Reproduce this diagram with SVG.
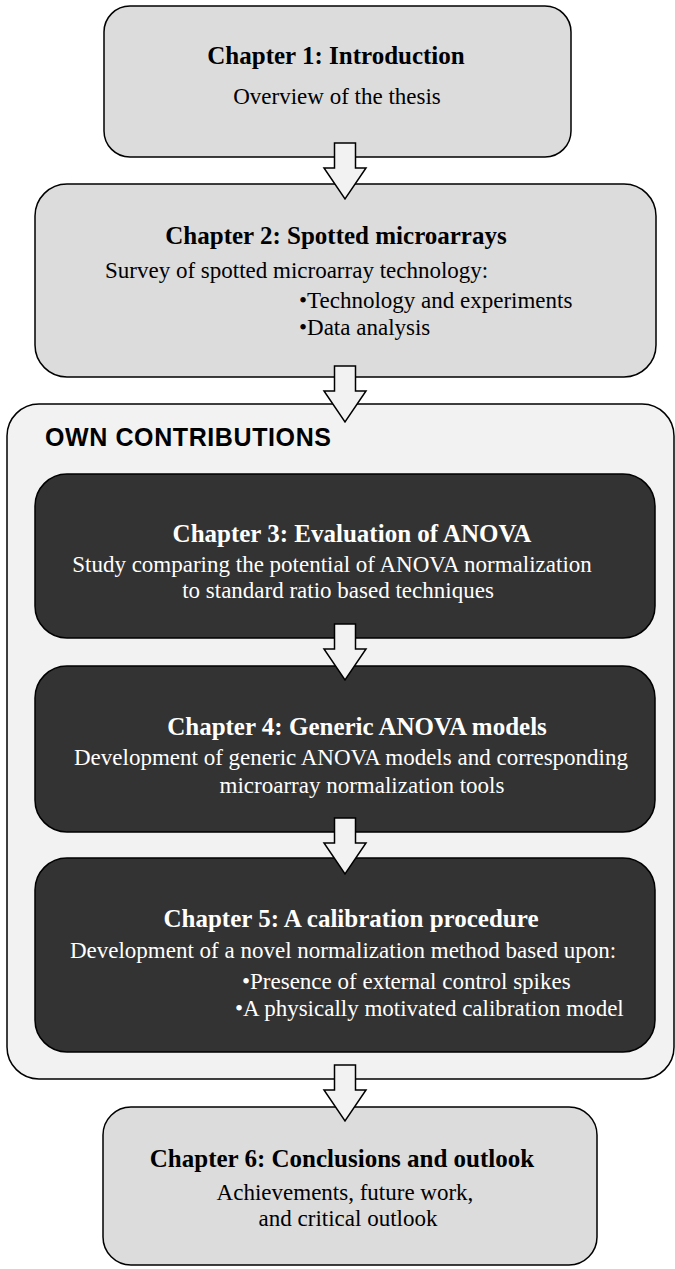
<svg xmlns="http://www.w3.org/2000/svg" width="675" height="1269" viewBox="0 0 675 1269">
<style>
.light{fill:#dcdcdc;stroke:#000;stroke-width:1.5}
.dark{fill:#333333;stroke:#000;stroke-width:1.5}
.cont{fill:#f2f2f2;stroke:#000;stroke-width:1.5}
.arrow{fill:#f2f2f2;stroke:#000;stroke-width:1.5;stroke-linejoin:miter}
.t{font-family:"Liberation Serif","Times New Roman",serif;font-weight:bold;font-size:25px;text-anchor:middle}
.b{font-family:"Liberation Serif","Times New Roman",serif;font-size:23px}
.c{text-anchor:middle}
.k{fill:#000}
.w{fill:#fff}
.own{font-family:"Liberation Sans",Arial,sans-serif;font-weight:bold;font-size:25px;letter-spacing:0.6px;fill:#000}
</style>
<rect id="container" class="cont" x="7" y="404" width="667" height="675" rx="32"/>
<text class="own" x="45" y="446">OWN CONTRIBUTIONS</text>
<g id="ch1">
<rect class="light" x="104" y="6" width="467" height="151" rx="26"/>
<text class="t k" x="336" y="64">Chapter 1: Introduction</text>
<text class="b k c" x="337" y="104">Overview of the thesis</text>
</g>
<g id="ch2">
<rect class="light" x="35" y="184" width="621" height="193" rx="32"/>
<text class="t k" x="336" y="244">Chapter 2: Spotted microarrays</text>
<text class="b k" x="105" y="278">Survey of spotted microarray technology:</text>
<text class="b k" x="299" y="308">•Technology and experiments</text>
<text class="b k" x="299" y="335">•Data analysis</text>
</g>
<g id="ch3">
<rect class="dark" x="35" y="474" width="620" height="164" rx="32"/>
<text class="t w" x="352" y="542">Chapter 3: Evaluation of ANOVA</text>
<text class="b w c" x="332" y="572">Study comparing the potential of ANOVA normalization</text>
<text class="b w c" x="338" y="598">to standard ratio based techniques</text>
</g>
<g id="ch4">
<rect class="dark" x="35" y="666" width="620" height="166" rx="32"/>
<text class="t w" x="357" y="735">Chapter 4: Generic ANOVA models</text>
<text class="b w c" x="351" y="765">Development of generic ANOVA models and corresponding</text>
<text class="b w c" x="362" y="793">microarray normalization tools</text>
</g>
<g id="ch5">
<rect class="dark" x="35" y="858" width="620" height="194" rx="32"/>
<text class="t w" x="351" y="927">Chapter 5: A calibration procedure</text>
<text class="b w c" x="343" y="958">Development of a novel normalization method based upon:</text>
<text class="b w" x="242" y="989">•Presence of external control spikes</text>
<text class="b w" x="235" y="1016">•A physically motivated calibration model</text>
</g>
<g id="ch6">
<rect class="light" x="103" y="1107" width="494" height="158" rx="28"/>
<text class="t k" x="342" y="1167">Chapter 6: Conclusions and outlook</text>
<text class="b k c" x="345" y="1200">Achievements, future work,</text>
<text class="b k c" x="348" y="1226">and critical outlook</text>
</g>
<g id="connectors">
<path class="arrow" d="M334.5,143 H355.5 V168 H366 L345,199 L324,168 H334.5 Z"/>
<path class="arrow" d="M334.5,366 H355.5 V391 H366 L345,422 L324,391 H334.5 Z"/>
<path class="arrow" d="M334.5,624 H355.5 V649 H366 L345,680 L324,649 H334.5 Z"/>
<path class="arrow" d="M334.5,818 H355.5 V843 H366 L345,874 L324,843 H334.5 Z"/>
<path class="arrow" d="M334.5,1065 H355.5 V1090 H366 L345,1121 L324,1090 H334.5 Z"/>
</g>
</svg>
